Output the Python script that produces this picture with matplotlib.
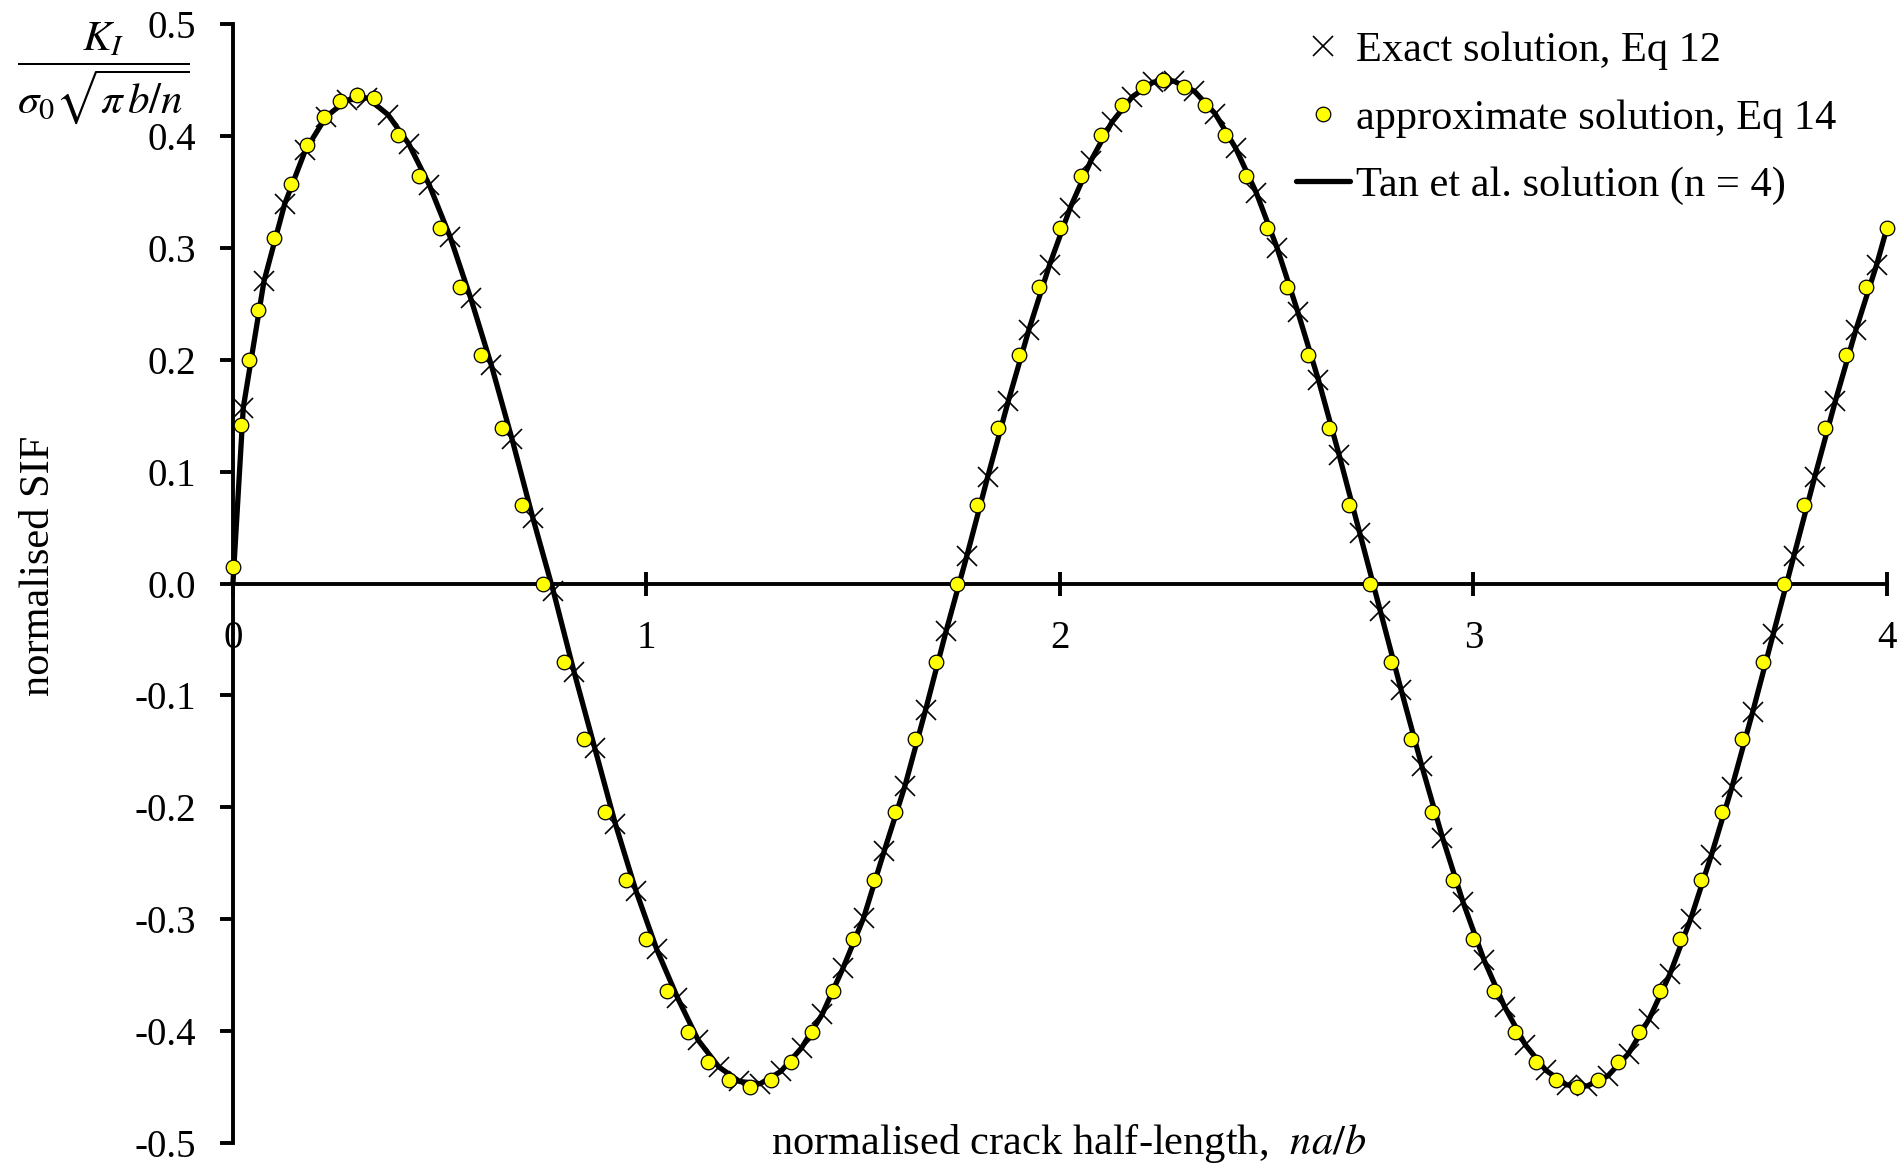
import matplotlib
matplotlib.use("Agg")
import matplotlib.pyplot as plt

# approximate solution (Eq 14), yellow dots
approx_x = [0.00, 0.02, 0.04, 0.06, 0.10, 0.14, 0.18, 0.22, 0.26, 0.30, 0.34,
            0.40, 0.45, 0.50, 0.55, 0.60, 0.65, 0.70, 0.75,
            0.80, 0.85, 0.90, 0.95, 1.00, 1.05, 1.10, 1.15, 1.20, 1.25,
            1.30, 1.35, 1.40, 1.45, 1.50, 1.55, 1.60, 1.65, 1.70, 1.75,
            1.80, 1.85, 1.90, 1.95, 2.00, 2.05, 2.10, 2.15, 2.20, 2.25,
            2.30, 2.35, 2.40, 2.45, 2.50, 2.55, 2.60, 2.65, 2.70, 2.75,
            2.80, 2.85, 2.90, 2.95, 3.00, 3.05, 3.10, 3.15, 3.20, 3.25,
            3.30, 3.35, 3.40, 3.45, 3.50, 3.55, 3.60, 3.65, 3.70, 3.75,
            3.80, 3.85, 3.90, 3.95, 4.00]
approx_y = [0.015, 0.142, 0.200, 0.244, 0.309, 0.357, 0.392, 0.417, 0.431, 0.437, 0.434,
            0.401, 0.364, 0.318, 0.265, 0.204, 0.139, 0.070, 0.000,
            -0.070, -0.139, -0.204, -0.265, -0.318, -0.364, -0.401, -0.428, -0.444, -0.450,
            -0.444, -0.428, -0.401, -0.364, -0.318, -0.265, -0.204, -0.139, -0.070, 0.000,
            0.070, 0.139, 0.204, 0.265, 0.318, 0.364, 0.401, 0.428, 0.444, 0.450,
            0.444, 0.428, 0.401, 0.364, 0.318, 0.265, 0.204, 0.139, 0.070, 0.000,
            -0.070, -0.139, -0.204, -0.265, -0.318, -0.364, -0.401, -0.428, -0.444, -0.450,
            -0.444, -0.428, -0.401, -0.364, -0.318, -0.265, -0.204, -0.139, -0.070, 0.000,
            0.070, 0.139, 0.204, 0.265, 0.318]

# exact solution (Eq 12), crosses
exact_x = [0.025, 0.075, 0.125, 0.175, 0.225, 0.275, 0.325, 0.375, 0.425, 0.475,
           0.525, 0.575, 0.625, 0.675, 0.725, 0.775, 0.825, 0.875, 0.925, 0.975,
           1.025, 1.075, 1.125, 1.175, 1.225, 1.275, 1.325, 1.375, 1.425, 1.475,
           1.525, 1.575, 1.625, 1.675, 1.725, 1.775, 1.825, 1.875, 1.925, 1.975,
           2.025, 2.075, 2.125, 2.175, 2.225, 2.275, 2.325, 2.375, 2.425, 2.475,
           2.525, 2.575, 2.625, 2.675, 2.725, 2.775, 2.825, 2.875, 2.925, 2.975,
           3.025, 3.075, 3.125, 3.175, 3.225, 3.275, 3.325, 3.375, 3.425, 3.475,
           3.525, 3.575, 3.625, 3.675, 3.725, 3.775, 3.825, 3.875, 3.925, 3.975]
exact_y = [0.157, 0.270, 0.339, 0.387, 0.417, 0.432, 0.434, 0.419, 0.393, 0.356,
           0.310, 0.255, 0.195, 0.129, 0.059, -0.007, -0.079, -0.147, -0.215, -0.275,
           -0.327, -0.370, -0.408, -0.432, -0.445, -0.447, -0.436, -0.415, -0.385, -0.344,
           -0.299, -0.239, -0.181, -0.113, -0.042, 0.025, 0.095, 0.163, 0.227, 0.285,
           0.336, 0.378, 0.412, 0.435, 0.448, 0.449, 0.440, 0.420, 0.389, 0.349,
           0.300, 0.243, 0.182, 0.115, 0.045, -0.025, -0.095, -0.163, -0.227, -0.285,
           -0.336, -0.378, -0.412, -0.435, -0.448, -0.449, -0.440, -0.420, -0.389, -0.349,
           -0.300, -0.243, -0.182, -0.115, -0.045, 0.025, 0.095, 0.163, 0.227, 0.285]

# Tan et al. (n = 4) curve: starts at the origin, follows the exact values, ends at na/b = 4
tan_x = [0.0] + exact_x + [4.0]
tan_y = [0.0] + exact_y + [0.318]

x_ticks = [0, 1, 2, 3, 4]
x_tick_labels = ["0", "1", "2", "3", "4"]
y_ticks = [-0.5, -0.4, -0.3, -0.2, -0.1, 0.0, 0.1, 0.2, 0.3, 0.4, 0.5]
y_tick_labels = ["-0.5", "-0.4", "-0.3", "-0.2", "-0.1", "0.0", "0.1", "0.2", "0.3", "0.4", "0.5"]

plt.rcParams["font.family"] = ["Liberation Serif", "DejaVu Serif"]
plt.rcParams["axes.unicode_minus"] = False
TICK_FS = 28
TEXT_FS = 30.5

fig = plt.figure(figsize=(19.03, 11.66), dpi=100)
ax = fig.add_axes([0.1224, 0.0197, 0.8692, 0.9597])

tan_line, = ax.plot(tan_x, tan_y, color="black", lw=3.8, zorder=2,
                    solid_capstyle="round", clip_on=False,
                    label="Tan et al. solution (n = 4)")
exact_pts, = ax.plot(exact_x, exact_y, ls="none", marker="x", ms=15, mew=1.2,
                     color="black", zorder=3, clip_on=False,
                     label="Exact solution, Eq 12")
approx_pts, = ax.plot(approx_x, approx_y, ls="none", marker="o", ms=10.5,
                      mfc="#ffff00", mec="black", mew=0.9, zorder=4, clip_on=False,
                      label="approximate solution, Eq 14")

ax.set_xlim(0, 4)
ax.set_ylim(-0.5, 0.5)
ax.spines["left"].set_position(("data", 0))
ax.spines["bottom"].set_position(("data", 0))
ax.spines["top"].set_visible(False)
ax.spines["right"].set_visible(False)
for side in ("left", "bottom"):
    ax.spines[side].set_linewidth(2.8)

ax.set_xticks(x_ticks, x_tick_labels)
ax.set_yticks(y_ticks, y_tick_labels)
ax.tick_params(axis="x", direction="inout", length=17, width=2.8, pad=18, labelsize=TICK_FS)
ax.tick_params(axis="y", direction="out", length=9.5, width=2.8, pad=17, labelsize=TICK_FS)

ax.set_ylabel("normalised SIF", fontsize=TEXT_FS)
ax.yaxis.set_label_coords(-0.106, 0.516)
ax.text(0.505, 0.0, "normalised crack half-length,  $na/b$", transform=ax.transAxes,
        ha="center", va="center", fontsize=TEXT_FS, math_fontfamily="stix")

fig.text(103 / 1903, 1 - 74 / 1166, r"$\dfrac{K_I}{\sigma_0\sqrt{\pi\,b/n}}$",
         ha="center", va="center", fontsize=31, math_fontfamily="stix")

ax.legend(handles=[exact_pts, approx_pts, tan_line], loc="upper left",
          bbox_to_anchor=(0.681, 0.973), bbox_transform=fig.transFigure,
          frameon=False, fontsize=TEXT_FS, borderpad=0, borderaxespad=0,
          handlelength=1.27, handletextpad=0.14, labelspacing=0.68)

fig.savefig("out.png", dpi=100)
